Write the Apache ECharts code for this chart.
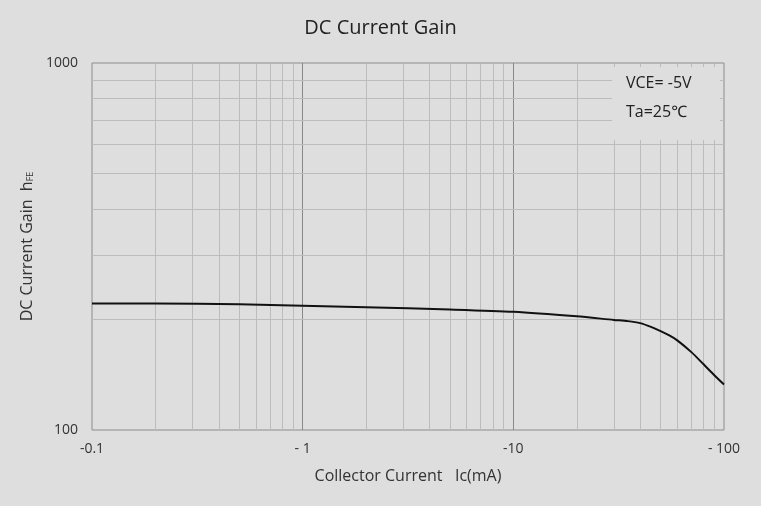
<!DOCTYPE html>
<html>
<head>
<meta charset="utf-8">
<script src="https://cdn.jsdelivr.net/npm/echarts@6/dist/echarts.min.js"></script>
<style>
  html, body { margin: 0; padding: 0; background: #dedede; }
  #chart { width: 761px; height: 506px; }
</style>
</head>
<body>
<div id="chart"></div>
<script>
// collector current Ic (mA, shown negative) and DC current gain hFE
const current = [0.1, 0.2, 0.5, 1, 2, 5, 10, 20, 30, 35, 40, 45, 50, 55, 60, 70, 80, 90, 100]
const gain = [221, 221, 220, 218, 216, 213, 210, 204, 199.5, 198, 195.5, 191, 186, 181, 175.5, 163, 151, 141, 133]

const xTickLabels = ['-0.1', '- 1', '-10', '- 100']
const yTickLabels = ['100', '1000']

// minor grid positions
const xMinor = [0.2, 0.3, 0.4, 0.5, 0.6, 0.7, 0.8, 0.9, 2, 3, 4, 5, 6, 7, 8, 9, 20, 30, 40, 50, 60, 70, 80, 90]
const xMajor = [1, 10]
const yMinor = [200, 300, 400, 500, 600, 700, 800, 900]

const font = '"Open Sans", "Noto Sans", sans-serif'
const chart = echarts.init(document.getElementById('chart'))

const gridLines = []
xMinor.forEach(v => gridLines.push({ xAxis: v, lineStyle: { color: '#bcbcbc' } }))
xMajor.forEach(v => gridLines.push({ xAxis: v, lineStyle: { color: '#888888' } }))
yMinor.forEach(v => gridLines.push({ yAxis: v, lineStyle: { color: '#bcbcbc' } }))

chart.setOption({
  backgroundColor: '#dedede',
  animation: false,
  title: {
    text: 'DC Current Gain',
    left: 'center',
    top: 13,
    textStyle: { fontFamily: font, fontSize: 20, fontWeight: 'normal', color: '#222' }
  },
  grid: {
    left: 92,
    right: 37,
    top: 63,
    bottom: 76,
    show: true,
    borderColor: '#8c8c8c',
    borderWidth: 1
  },
  xAxis: {
    type: 'log',
    logBase: 10,
    min: 0.1,
    max: 100,
    name: 'Collector Current   Ic(mA)',
    nameLocation: 'middle',
    nameGap: 38,
    nameTextStyle: { fontFamily: font, fontSize: 16, color: '#333' },
    axisLine: { show: false },
    axisTick: { show: false },
    splitLine: { show: false },
    axisLabel: {
      fontFamily: font,
      fontSize: 14,
      color: '#333',
      margin: 12,
      formatter: v => xTickLabels[Math.round(Math.log10(v)) + 1]
    }
  },
  yAxis: {
    type: 'log',
    logBase: 10,
    min: 100,
    max: 1000,
    name: 'DC Current Gain  h{s|FE}',
    nameLocation: 'middle',
    nameGap: 53,
    nameTextStyle: {
      fontFamily: font,
      fontSize: 16,
      color: '#333',
      rich: { s: { fontFamily: font, fontSize: 9, color: '#333', verticalAlign: 'bottom', padding: [7, 0, 0, 0] } }
    },
    axisLine: { show: false },
    axisTick: { show: false },
    splitLine: { show: false },
    axisLabel: {
      fontFamily: font,
      fontSize: 14,
      color: '#333',
      margin: 14,
      formatter: v => yTickLabels[Math.round(Math.log10(v)) - 2]
    }
  },
  series: [
    {
      type: 'line',
      data: current.map((c, i) => [c, gain[i]]),
      smooth: 0.25,
      showSymbol: false,
      lineStyle: { color: '#111', width: 2 },
      z: 5,
      markLine: {
        silent: true,
        symbol: 'none',
        label: { show: false },
        lineStyle: { type: 'solid', width: 1 },
        data: gridLines
      }
    }
  ],
  graphic: [
    { type: 'rect', z: 50, shape: { x: 612, y: 67, width: 108, height: 73 }, style: { fill: '#dedede' } },
    { type: 'text', z: 51, left: 626, top: 75, style: { text: 'VCE= -5V', font: '16px ' + font, fill: '#222' } },
    { type: 'text', z: 51, left: 626, top: 104, style: { text: 'Ta=25℃', font: '16px ' + font, fill: '#222' } }
  ]
})
</script>
</body>
</html>
